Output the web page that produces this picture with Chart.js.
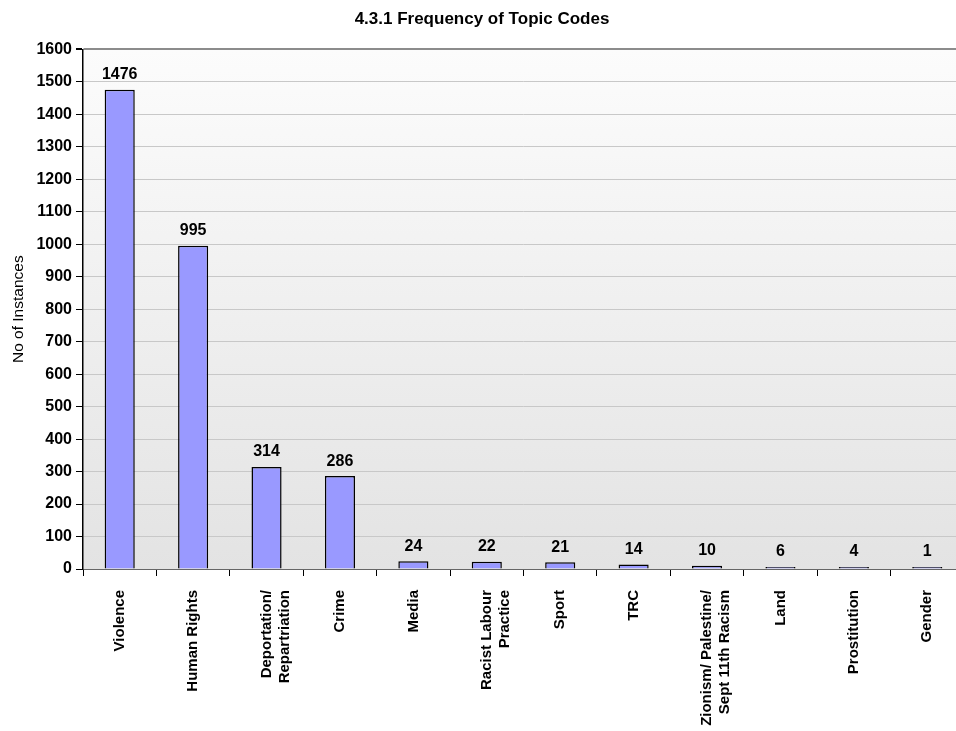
<!DOCTYPE html>
<html>
<head>
<meta charset="utf-8">
<script src="https://cdn.jsdelivr.net/npm/chart.js@4"></script>
<style>
  html, body { margin: 0; padding: 0; background: #fff; overflow: hidden; }
  #wrap { width: 964px; height: 731px; position: relative; }
</style>
</head>
<body>
<div id="wrap"><canvas id="myChart"></canvas></div>
<script>
const topics = [
    'Violence',
    'Human Rights',
    ['Deportation/', 'Repartriation'],
    'Crime',
    'Media',
    ['Racist Labour', 'Practice'],
    'Sport',
    'TRC',
    ['Zionism/ Palestine/', 'Sept 11th Racism'],
    'Land',
    'Prostitution',
    'Gender'
];
const instances = [1476, 995, 314, 286, 24, 22, 21, 14, 10, 6, 4, 1];
const yTicks = [0, 100, 200, 300, 400, 500, 600, 700, 800, 900, 1000, 1100, 1200, 1300, 1400, 1500, 1600];

const FONT = "'Liberation Sans', Arial, sans-serif";

// gradient behind the bars
const plotBackground = {
    id: 'plotBackground',
    beforeDraw(chart) {
        const { ctx, chartArea: a } = chart;
        const g = ctx.createLinearGradient(0, a.top, 0, a.bottom);
        g.addColorStop(0, '#fcfcfc');
        g.addColorStop(1, '#e3e3e3');
        ctx.save();
        ctx.fillStyle = g;
        ctx.fillRect(a.left, a.top, a.right - a.left, a.bottom - a.top);
        ctx.restore();
    }
};

// numbers above each bar
const valueLabels = {
    id: 'valueLabels',
    afterDatasetsDraw(chart) {
        const ctx = chart.ctx;
        const meta = chart.getDatasetMeta(0);
        ctx.save();
        ctx.font = 'bold 16px ' + FONT;
        ctx.fillStyle = '#000';
        ctx.textAlign = 'center';
        ctx.textBaseline = 'bottom';
        meta.data.forEach((bar, i) => {
            ctx.fillText(String(instances[i]), bar.x, bar.y - 7);
        });
        ctx.restore();
    }
};

const ctx = document.getElementById('myChart').getContext('2d');
const chart = new Chart(ctx, {
    type: 'bar',
    data: {
        labels: topics,
        datasets: [{
            label: 'No of Instances',
            data: instances,
            backgroundColor: '#9999ff',
            borderColor: '#000',
            borderWidth: 1.5,
            borderSkipped: 'bottom',
            minBarLength: 2,
            barPercentage: 0.41,
            categoryPercentage: 1
        }]
    },
    options: {
        responsive: true,
        maintainAspectRatio: false,
        animation: false,
        plugins: {
            legend: { display: false },
            tooltip: { enabled: false },
            title: {
                display: true,
                text: '4.3.1 Frequency of Topic Codes',
                color: '#000',
                font: { family: FONT, size: 17, weight: 'bold' },
                padding: { top: 9, bottom: 20 }
            }
        },
        scales: {
            x: {
                grid: {
                    drawOnChartArea: false,
                    drawTicks: true,
                    tickLength: 7,
                    tickColor: '#000',
                    offset: true
                },
                border: { color: '#666', width: 1 },
                ticks: {
                    minRotation: 90,
                    maxRotation: 90,
                    autoSkip: false,
                    padding: 14,
                    color: '#000',
                    font: { family: FONT, size: 15, weight: 'bold' }
                },
                afterFit(scale) { scale.height = 162; }
            },
            y: {
                min: 0,
                max: 1600,
                afterBuildTicks(scale) {
                    scale.ticks = yTicks.map(v => ({ value: v }));
                },
                grid: {
                    color: ctx => ctx.tick && ctx.tick.value === 1600 ? '#8c8c8c' : '#c8c8c8',
                    lineWidth: ctx => ctx.tick && ctx.tick.value === 1600 ? 2 : 1,
                    tickLength: 7,
                    tickColor: '#000'
                },
                border: { color: '#000', width: 1.5 },
                ticks: {
                    padding: 4,
                    color: '#000',
                    font: { family: FONT, size: 16, weight: 'bold' },
                    callback: v => String(v)
                },
                title: {
                    display: true,
                    text: 'No of Instances',
                    color: '#000',
                    font: { family: FONT, size: 15.5, weight: 'normal' },
                    padding: { top: 9, bottom: 0 }
                },
                afterFit(scale) { scale.width = 83; }
            }
        }
    },
    plugins: [plotBackground, valueLabels]
});
</script>
</body>
</html>
